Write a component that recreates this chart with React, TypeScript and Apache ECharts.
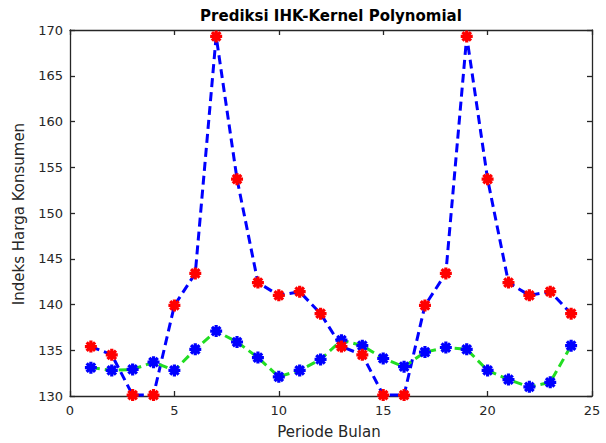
import React, { useEffect, useRef } from "react";
import * as echarts from "echarts";

const months: number[] = [1, 2, 3, 4, 5, 6, 7, 8, 9, 10, 11, 12, 13, 14, 15, 16, 17, 18, 19, 20, 21, 22, 23, 24];
const actualIHK: number[] = [
  135.4, 134.5, 130.1, 130.1, 139.9, 143.4, 169.3, 153.7, 142.4, 141.0, 141.4, 139.0,
  135.4, 134.5, 130.1, 130.1, 139.9, 143.4, 169.3, 153.7, 142.4, 141.0, 141.4, 139.0,
];
const predictedIHK: number[] = [
  133.1, 132.8, 132.9, 133.7, 132.8, 135.1, 137.1, 135.9, 134.2, 132.1, 132.8, 134.0,
  136.1, 135.5, 134.1, 133.2, 134.8, 135.3, 135.1, 132.8, 131.8, 131.0, 131.5, 135.5,
];
const xTicks = { min: 0, max: 25, interval: 5 };
const yTicks = { min: 130, max: 170, interval: 5 };
const titleText = "Prediksi IHK-Kernel Polynomial";
const xName = "Periode Bulan";
const yName = "Indeks Harga Konsumen";

const STAR = "path://M6,0L6,12M0,6L12,6M1.76,1.76L10.24,10.24M1.76,10.24L10.24,1.76";
const FONT = "DejaVu Sans";
const AX = "#262626";

export default function App() {
  const ref = useRef<HTMLDivElement>(null);
  useEffect(() => {
    document.body.style.margin = "0";
    const chart = echarts.init(ref.current!, null, { renderer: "svg" });
    const pair = (ys: number[]) => months.map((m, i) => [m, ys[i]]);
    const axisCommon = {
      axisLine: { show: true, onZero: false, lineStyle: { color: AX, width: 1.3 } },
      axisTick: { show: true, inside: true, length: 5, lineStyle: { color: AX, width: 1.3 } },
      splitLine: { show: false },
    };
    chart.setOption({
      animation: false,
      backgroundColor: "#ffffff",
      grid: {
        left: 70,
        top: 30,
        width: 522,
        height: 366,
        containLabel: false,
        outerBoundsMode: "none",
      },
      xAxis: [
        {
          type: "value",
          position: "bottom",
          ...xTicks,
          ...axisCommon,
          axisLabel: { color: AX, fontFamily: FONT, fontSize: 13, margin: 8 },
        },
        {
          type: "value",
          position: "top",
          ...xTicks,
          ...axisCommon,
          axisLabel: { show: false },
        },
      ],
      yAxis: [
        {
          type: "value",
          position: "left",
          ...yTicks,
          ...axisCommon,
          axisLabel: { color: AX, fontFamily: FONT, fontSize: 13, margin: 7 },
        },
        {
          type: "value",
          position: "right",
          ...yTicks,
          ...axisCommon,
          axisLabel: { show: false },
        },
      ],
      graphic: [
        {
          type: "text",
          x: 331,
          y: 16,
          style: {
            text: titleText,
            fontFamily: FONT,
            fontWeight: "bold",
            fontSize: 15,
            fill: "#000000",
            align: "center",
            verticalAlign: "middle",
          },
        },
        {
          type: "text",
          x: 329,
          y: 432,
          style: {
            text: xName,
            fontFamily: FONT,
            fontSize: 15,
            fill: AX,
            align: "center",
            verticalAlign: "middle",
          },
        },
        {
          type: "text",
          x: 19,
          y: 214,
          rotation: Math.PI / 2,
          style: {
            text: yName,
            fontFamily: FONT,
            fontSize: 15,
            fill: AX,
            align: "center",
            verticalAlign: "middle",
          },
        },
      ],
      series: [
        {
          name: "Aktual (garis)",
          type: "line",
          data: pair(actualIHK),
          showSymbol: false,
          symbol: "none",
          clip: false,
          lineStyle: { color: "#0000ff", width: 3, type: [9, 5] },
          z: 2,
        },
        {
          name: "Prediksi",
          type: "line",
          data: pair(predictedIHK),
          symbol: STAR,
          symbolSize: 12,
          clip: false,
          lineStyle: { color: "#22dd22", width: 3, type: [9, 5] },
          itemStyle: { color: "#0000ff", borderColor: "#0000ff", borderWidth: 3.2 },
          z: 3,
        },
        {
          name: "Aktual",
          type: "scatter",
          data: pair(actualIHK),
          symbol: STAR,
          symbolSize: 12,
          clip: false,
          itemStyle: { color: "#ff0000", borderColor: "#ff0000", borderWidth: 3.2, opacity: 1 },
          z: 4,
        },
      ],
    });
    return () => chart.dispose();
  }, []);
  return <div ref={ref} style={{ width: 606, height: 443 }} />;
}
